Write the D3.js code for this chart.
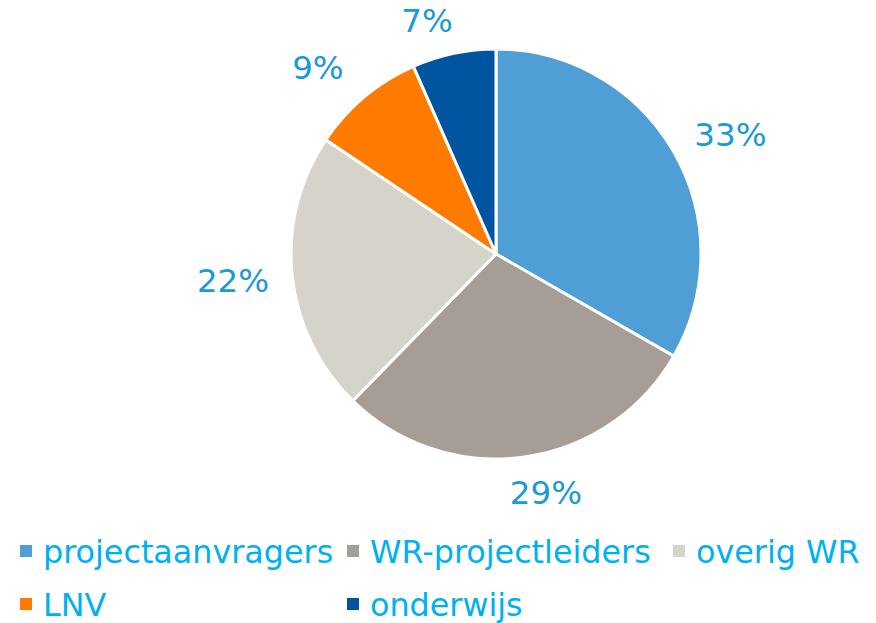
<!DOCTYPE html>
<html><head><meta charset="utf-8">
<script src="https://cdn.jsdelivr.net/npm/d3@7"></script>
<style>body{margin:0;background:#fff}svg{display:block}</style>
</head><body>
<script>
const categories = ["projectaanvragers", "WR-projectleiders", "overig WR", "LNV", "onderwijs"];
const values = [33.3, 29.0, 22.1, 9.0, 6.6];
const labels = ["33%", "29%", "22%", "9%", "7%"];
const colors = ["#4f9fd6", "#a59d96", "#d6d3cb", "#ff7b00", "#0054a0"];

const W = 876, H = 623;
const cx = 496, cy = 254, R = 205;
const svg = d3.select("body").append("svg").attr("width", W).attr("height", H);
const font = "Verdana, 'DejaVu Sans', sans-serif";

const pie = d3.pie().sort(null).value(d => d)(values);
const arc = d3.arc().innerRadius(0).outerRadius(R);
const g = svg.append("g").attr("transform", `translate(${cx},${cy})`);
g.selectAll("path").data(pie).join("path")
  .attr("d", arc).attr("fill", (d, i) => colors[i])
  .attr("stroke", "#fff").attr("stroke-width", 3).attr("stroke-linejoin", "round");

// data-label placement: outside end, with small layout nudges as in the original
const fs = 32.5, gap = 21;
const nudge = [[6.6, 11.8], [16.5, -2.6], [-1.2, -1.2], [-16.4, 5.9], [-18.9, 3.8]];
g.selectAll("text.lab").data(pie).join("text").attr("class", "lab")
  .attr("font-family", font).attr("font-size", fs).attr("fill", "#1a9ad6")
  .attr("text-anchor", "middle")
  .text((d, i) => labels[i])
  .each(function(d, i) {
    const a = (d.startAngle + d.endAngle) / 2;
    const w = this.getComputedTextLength();
    const h = 24;
    const off = R + gap + (w / 2) * Math.abs(Math.sin(a)) + (h / 2) * Math.abs(Math.cos(a));
    const x = off * Math.sin(a) + nudge[i][0], y = -off * Math.cos(a) + nudge[i][1];
    d3.select(this).attr("x", x).attr("y", y + 0.365 * fs);
  });

// legend
const legX = [20, 347, 673];
const legY = [563, 616];
const lfs = 31.8;
const leg = svg.append("g");
categories.forEach((c, i) => {
  const row = i < 3 ? 0 : 1;
  const col = i < 3 ? i : i - 3;
  const x = legX[col], y = legY[row];
  leg.append("rect").attr("x", x).attr("y", y - 18).attr("width", 12).attr("height", 12).attr("fill", colors[i]);
  leg.append("text").attr("x", x + 23).attr("y", y)
    .attr("font-family", font).attr("font-size", lfs).attr("fill", "#00b0f0").text(c);
});
</script>
</body></html>
